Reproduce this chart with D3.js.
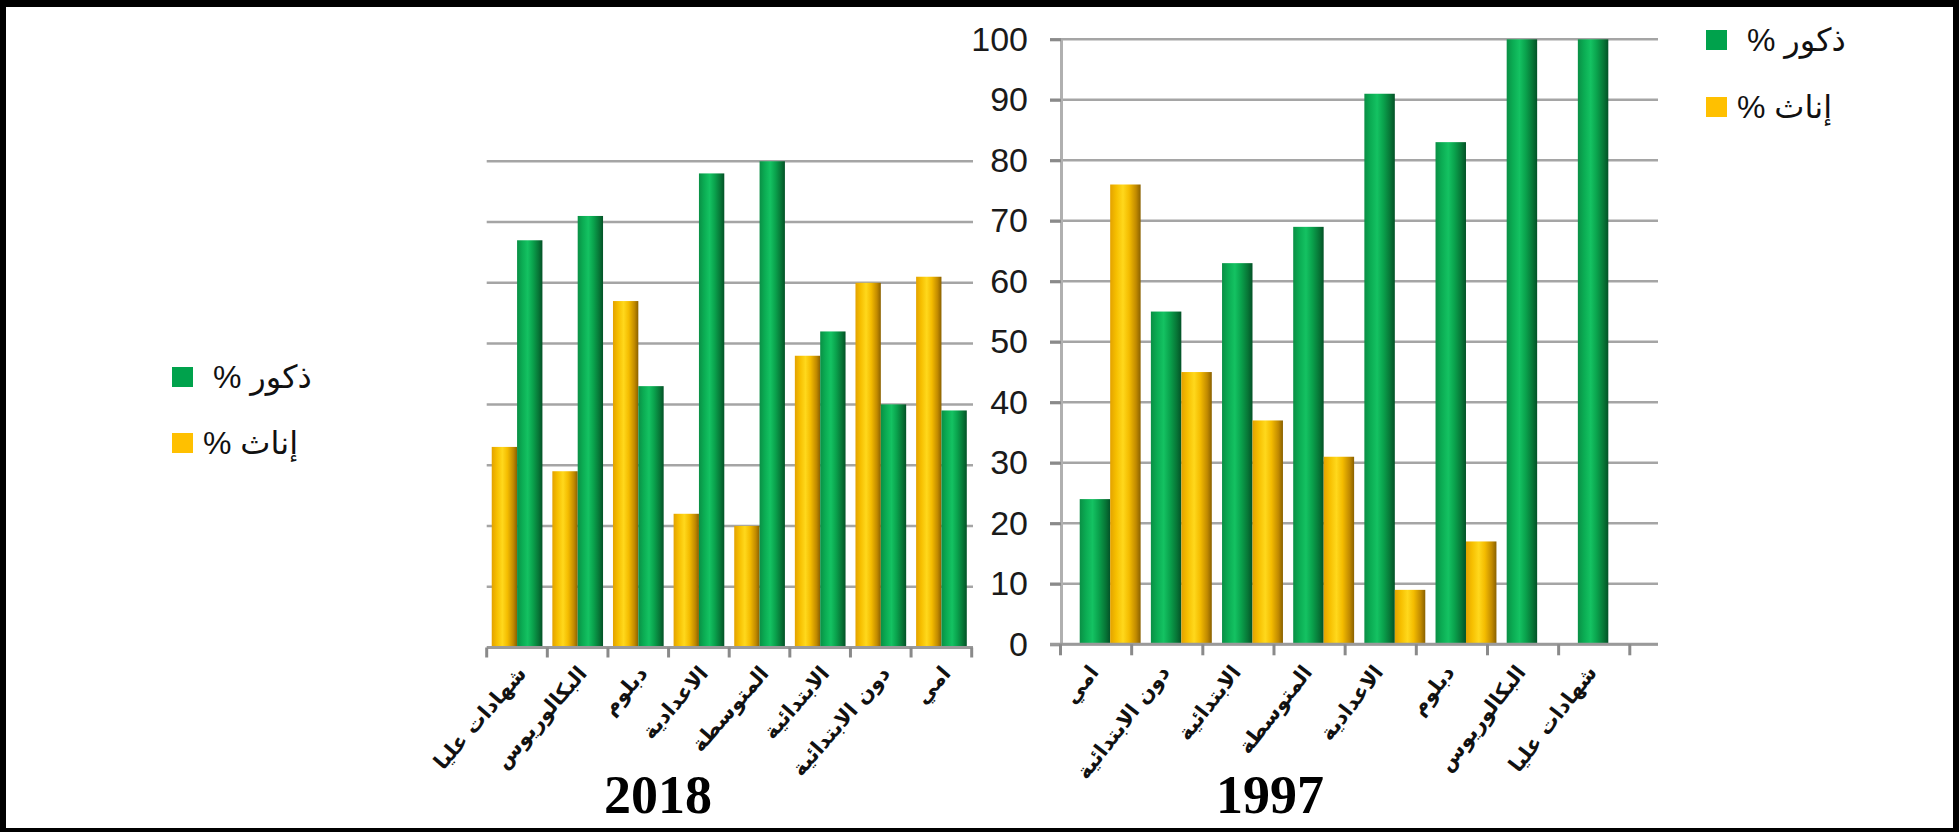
<!DOCTYPE html>
<html>
<head>
<meta charset="utf-8">
<script src="https://cdn.jsdelivr.net/npm/d3@7/dist/d3.min.js"></script>
<style>
  html, body { margin: 0; padding: 0; background: #000; }
  svg { display: block; }
</style>
</head>
<body>
<svg id="chart" width="1959" height="832"></svg>
<script>
// ---- data ----
const cats2018 = ['شهادات عليا', 'البكالوريوس', 'دبلوم', 'الاعدادية', 'المتوسطة', 'الابتدائية', 'دون الابتدائية', 'امي'];
const female2018 = [33, 29, 57, 22, 20, 48, 60, 61];
const male2018   = [67, 71, 43, 78, 80, 52, 40, 39];

const cats1997 = ['امي', 'دون الابتدائية', 'الابتدائية', 'المتوسطة', 'الاعدادية', 'دبلوم', 'البكالوريوس', 'شهادات عليا'];
const male1997   = [24, 55, 63, 69, 91, 83, 100, 100];
const female1997 = [76, 45, 37, 31, 9, 17, 0, 0];

const yTicks = [0, 10, 20, 30, 40, 50, 60, 70, 80, 90, 100];
const gridLeft = [10, 20, 30, 40, 50, 60, 70, 80];
const legendLabels = { male: '% ذكور', female: '% إناث' };
const titles = { left: '2018', right: '1997' };

// ---- drawing ----
const svg = d3.select('#chart');
svg.append('rect').attr('x', 6).attr('y', 7).attr('width', 1947).attr('height', 821).attr('fill', '#fff');

const defs = svg.append('defs');
function grad(id, stops) {
  const g = defs.append('linearGradient').attr('id', id).attr('x1', 0).attr('x2', 1).attr('y1', 0).attr('y2', 0);
  stops.forEach(s => g.append('stop').attr('offset', s[0]).attr('stop-color', s[1]));
}
grad('gGreen', [[0, '#0a8f45'], [0.2, '#0bac53'], [0.42, '#14c262'], [0.62, '#0aa34d'], [0.85, '#077536'], [1, '#035227']]);
grad('gYellow', [[0, '#e3a200'], [0.2, '#f6bf00'], [0.42, '#ffd81c'], [0.62, '#f4bc00'], [0.85, '#c18a00'], [1, '#8a6100']]);

const gridColor = '#a5a5a5';
const axisColor = '#9a9a9a';
const labelFont = '"DejaVu Sans", sans-serif';

// ===== Left chart (2018) =====
const yL = d3.scaleLinear().domain([0, 100]).range([647.5, 39.7]);
const xL = d3.scaleBand().domain(cats2018).range([486.7, 971.7]);
const gL = svg.append('g');

gL.selectAll('line.grid').data(gridLeft).join('line')
  .attr('x1', 486.7).attr('x2', 973).attr('y1', d => yL(d)).attr('y2', d => yL(d))
  .attr('stroke', gridColor).attr('stroke-width', 2.5);

const bwL = xL.bandwidth();
gL.selectAll('rect.f').data(cats2018).join('rect')
  .attr('x', d => xL(d) + bwL * 0.083).attr('width', bwL * 0.418)
  .attr('y', (d, i) => yL(female2018[i])).attr('height', (d, i) => yL(0) - yL(female2018[i]))
  .attr('fill', 'url(#gYellow)');
gL.selectAll('rect.m').data(cats2018).join('rect')
  .attr('x', d => xL(d) + bwL * 0.501).attr('width', bwL * 0.418)
  .attr('y', (d, i) => yL(male2018[i])).attr('height', (d, i) => yL(0) - yL(male2018[i]))
  .attr('fill', 'url(#gGreen)');

gL.append('line').attr('x1', 486.7).attr('x2', 973).attr('y1', yL(0)).attr('y2', yL(0))
  .attr('stroke', axisColor).attr('stroke-width', 3);
const bL = cats2018.map(c => xL(c)).concat([xL.range()[1]]);
gL.selectAll('line.tk').data(bL).join('line')
  .attr('x1', d => d).attr('x2', d => d).attr('y1', yL(0)).attr('y2', yL(0) + 10)
  .attr('stroke', '#8a8a8a').attr('stroke-width', 3);

gL.selectAll('text.xl').data(cats2018).join('text')
  .attr('transform', d => `translate(${xL(d) + bwL / 2 + 5},${yL(0) + 22}) rotate(-49)`)
  .attr('text-anchor', 'end').attr('dominant-baseline', 'central')
  .style('font-family', labelFont).style('font-weight', 'bold').style('font-size', '21px')
  .attr('fill', '#111').text(d => d);

svg.append('text').attr('x', 658).attr('y', 813).attr('text-anchor', 'middle')
  .style('font-family', '"Liberation Serif", serif').style('font-weight', 'bold').style('font-size', '54px')
  .attr('fill', '#000').text(titles.left);

// ===== Right chart (1997) =====
const yR = d3.scaleLinear().domain([0, 100]).range([644.3, 39.3]);
const xR = d3.scaleBand().domain(cats1997).range([1060.5, 1629.8]);
const gR = svg.append('g');

gR.selectAll('line.grid').data(yTicks).join('line')
  .attr('x1', 1050).attr('x2', 1658).attr('y1', d => yR(d)).attr('y2', d => yR(d))
  .attr('stroke', gridColor).attr('stroke-width', 2.5);

const bwR = xR.bandwidth();
gR.selectAll('rect.m').data(cats1997).join('rect')
  .attr('x', d => xR(d) + bwR * 0.27).attr('width', bwR * 0.428)
  .attr('y', (d, i) => yR(male1997[i])).attr('height', (d, i) => yR(0) - yR(male1997[i]))
  .attr('fill', 'url(#gGreen)');
gR.selectAll('rect.f').data(cats1997).join('rect')
  .attr('x', d => xR(d) + bwR * 0.698).attr('width', bwR * 0.428)
  .attr('y', (d, i) => yR(female1997[i])).attr('height', (d, i) => yR(0) - yR(female1997[i]))
  .attr('fill', 'url(#gYellow)');

const yAxis = d3.axisLeft(yR).tickValues(yTicks).tickSize(11).tickSizeOuter(0).tickPadding(22);
const ya = gR.append('g').attr('transform', 'translate(1061,0)').call(yAxis);
ya.select('.domain').attr('stroke', '#b0b0b0').attr('stroke-width', 3);
ya.selectAll('.tick line').attr('stroke', '#8a8a8a').attr('stroke-width', 3);
ya.selectAll('.tick text').style('font-family', '"Liberation Sans", Arial, sans-serif')
  .style('font-size', '34px').attr('fill', '#1a1a1a');

gR.append('line').attr('x1', 1050).attr('x2', 1658).attr('y1', yR(0)).attr('y2', yR(0))
  .attr('stroke', axisColor).attr('stroke-width', 3);
const bR = cats1997.map(c => xR(c)).concat([xR.range()[1]]);
gR.selectAll('line.tk').data(bR).join('line')
  .attr('x1', d => d).attr('x2', d => d).attr('y1', yR(0)).attr('y2', yR(0) + 11)
  .attr('stroke', '#8a8a8a').attr('stroke-width', 3);

gR.selectAll('text.xl').data(cats1997).join('text')
  .attr('transform', d => `translate(${xR(d) + bwR / 2 - 2},${yR(0) + 24}) rotate(-52)`)
  .attr('text-anchor', 'end').attr('dominant-baseline', 'central')
  .style('font-family', labelFont).style('font-weight', 'bold').style('font-size', '21px')
  .attr('fill', '#111').text(d => d);

svg.append('text').attr('x', 1270).attr('y', 813).attr('text-anchor', 'middle')
  .style('font-family', '"Liberation Serif", serif').style('font-weight', 'bold').style('font-size', '54px')
  .attr('fill', '#000').text(titles.right);

// ===== Legends =====
function legend(items) {
  items.forEach(it => {
    svg.append('rect').attr('x', it.sx).attr('y', it.sy).attr('width', 21).attr('height', 20).attr('fill', it.color);
    svg.append('text').attr('x', it.tx).attr('y', it.sy + 10).attr('dominant-baseline', 'central')
      .style('font-family', '"Liberation Sans", "DejaVu Sans", sans-serif').style('font-size', '32px')
      .attr('fill', '#111').text(it.label);
  });
}
legend([
  { sx: 1706, sy: 30, tx: 1747, color: '#00a24c', label: legendLabels.male },
  { sx: 1706, sy: 97, tx: 1737, color: '#ffc000', label: legendLabels.female },
  { sx: 172, sy: 367, tx: 213, color: '#00a24c', label: legendLabels.male },
  { sx: 172, sy: 433, tx: 203, color: '#ffc000', label: legendLabels.female }
]);
</script>
</body>
</html>
